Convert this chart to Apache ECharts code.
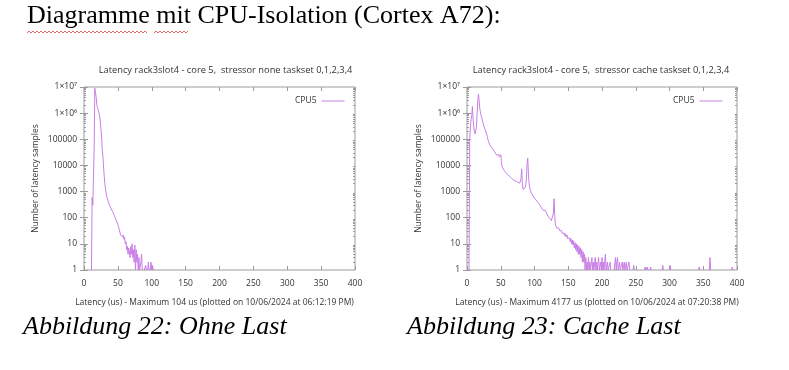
<!DOCTYPE html>
<html><head><meta charset="utf-8">
<script src="https://cdn.jsdelivr.net/npm/echarts@6/dist/echarts.min.js"></script>
<style>html,body{margin:0;padding:0;background:#fff}#c{width:789px;height:370px}</style>
</head><body><div id="c"></div>
<script>
// ---------- texts ----------
const pageTitle = 'Diagramme mit CPU-Isolation (Cortex A72):';
const chartTitles = ['Latency rack3slot4 - core 5,  stressor none taskset 0,1,2,3,4',
                     'Latency rack3slot4 - core 5,  stressor cache taskset 0,1,2,3,4'];
const xAxisTitles = ['Latency (us) - Maximum 104 us (plotted on 10/06/2024 at 06:12:19 PM)',
                     'Latency (us) - Maximum 4177 us (plotted on 10/06/2024 at 07:20:38 PM)'];
const yAxisTitle = 'Number of latency samples';
const captions = ['Abbildung 22: Ohne Last', 'Abbildung 23: Cache Last'];
const seriesName = 'CPU5';

// ---------- axes ----------
const xMin = 0, xMax = 400, xInterval = 50;
const yTickValues = [1, 10, 100, 1000, 10000, 100000, 1000000, 10000000];
const yTickLabels = ['1', '10', '100', '1000', '10000', '100000', '1×10⁶', '1×10⁷'];

// ---------- data: [latency us, number of samples] (null = no samples) ----------
const noneData = [[11,1],[12,600],[13,300],[14,350],[15,5e4],[16,9e6],[17,8e6],[18,4e6],[19,2e6],[20,1.6e6],
 [21,1.3e6],[22,1.1e6],[23,8e5],[24,5e5],[25,2.5e5],[26,1.2e5],[27,4e4],[28,2e4],[29,8000],[30,3500],
 [31,1800],[32,1100],[33,800],[34,600],[35,480],[36,400],[37,340],[38,290],[39,250],[40,220],
 [41,195],[42,175],[43,155],[44,135],[45,115],[46,100],[47,88],[48,75],[49,65],[50,55],
 [51,45],[52,36],[53,28],[54,22],[55,20],[56,25],[57,18],[58,22],[59,15],[60,18],
 [61,10],[62,12],[63,6],[64,8],[65,4],[66,7],[67,5],[68,3],[69,8],[70,4],
 [71,10],[72,3],[73,6],[74,2],[75,9],[76,1],[77,6],[78,2],[79,4],[80,1],
 [81,3],[82,1],[83,1],[84,2],[85,4],[86,1],[87,1],[88,null],[89,1],[90,1],
 [91,1.5],[92,1],[93,null],[94,1],[95,2],[96,1],[97,null],[98,1],[99,2],[100,1],
 [101,1.5],[102,1],[103,1],[104,1]];

const cacheData = [[3,1],[4,1.1e5],[5,3e5],[6,5.6e5],[7,8e5],[8,1.8e6],[9,6e5],[10,3e5],
 [11,2e5],[12,1.6e5],[13,1.5e5],[14,3e5],[15,1e6],[16,3e6],[17,5.4e6],[18,3e6],[19,1.5e6],[20,1e6],
 [21,8e5],[22,6.5e5],[23,5e5],[24,4e5],[25,3.2e5],[26,2.7e5],[27,2.3e5],[28,1.9e5],[29,1.6e5],[30,1.3e5],
 [31,1e5],[32,8e4],[33,7e4],[34,6e4],[35,5.5e4],[36,5e4],[37,4.5e4],[38,4.2e4],[39,4e4],[40,3.5e4],
 [41,3.2e4],[42,3e4],[43,2.7e4],[44,2.5e4],[45,2.9e4],[46,2.2e4],[47,2.6e4],[48,2.1e4],[49,2e4],[50,2.6e4],
 [51,1.4e4],[52,9e3],[53,8e3],[54,7e3],[55,6.5e3],[56,6e3],[57,5.5e3],[58,5.2e3],[59,5e3],[60,4.6e3],
 [61,4.3e3],[62,4e3],[63,3.8e3],[64,3.6e3],[65,3.4e3],[66,3.2e3],[67,3e3],[68,2.9e3],[69,2.8e3],[70,2.7e3],
 [71,2.6e3],[72,2.5e3],[73,2.4e3],[74,2.5e3],[75,2.3e3],[76,2.2e3],[77,2.3e3],[78,2.1e3],[79,2e3],[80,3e3],
 [81,7.4e3],[82,2e3],[83,1.2e3],[84,1.1e3],[85,1.2e3],[86,1.4e3],[87,1.8e3],[88,3e3],[89,1.2e4],[90,1.9e4],
 [91,5e3],[92,2e3],[93,1.4e3],[94,1.1e3],[95,900],[96,800],[97,750],[98,650],[99,600],[100,560],
 [101,520],[102,480],[103,450],[104,420],[105,390],[106,360],[107,330],[108,310],[109,280],[110,250],
 [111,230],[112,210],[113,190],[114,170],[115,160],[116,190],[117,220],[118,150],[119,127],[120,115],
 [121,105],[122,95],[123,85],[124,80],[125,78],[126,72],[127,70],[128,150],[129,530],[130,120],
 [131,53],[132,50],[133,40],[134,45],[135,35],[136,40],[137,32],[138,35],[139,28],[140,32],
 [141,25],[142,28],[143,22],[144,26],[145,20],[146,24],[147,18],[148,22],[149,16],[150,19],
 [151,14],[152,17],[153,12],[154,16],[155,10],[156,14],[157,9],[158,13],[159,7],[160,11],
 [161,6],[162,10],[163,5],[164,9],[165,4],[166,8],[167,4],[168,7],[169,3],[170,6],
 [171,2],[172,5],[173,2],[174,4],[175,1],[176,3],[177,1],[178,2],[179,1],[180,3],
 [181,1],[182,2],[183,1],[184,1],[185,3],[186,1],[187,2],[188,1],[189,1],[190,3],
 [191,1],[192,2],[193,1],[194,1],[195,3],[196,1],[197,1],[198,2],[199,1],[200,3],
 [201,1],[202,2],[203,1],[204,1],[205,4],[206,1],[207,1],[208,2],[209,1],[210,1],
 [211,1],[212,2],[213,1],[214,null],[218,1],[219,1],[220,3],[221,1],[222,2],[223,3],
 [224,1],[225,1],[226,2],[227,1],[228,1],[229,1],[230,2],[231,1],[232,1],[233,2],
 [234,1],[235,1],[236,2],[237,1],[238,1],[239,1],[240,2],[241,1],[242,null],
 [246,1],[247,1.5],[248,1],[249,null],[263,1],[264,1.3],[265,1],[266,1],[267,1.3],[268,1],[269,null],
 [271,1],[272,1.3],[273,1],[274,null],[289,1],[290,1.5],[291,1],[292,null],[300,1],[301,1.5],[302,1],[303,null],
 [343,1],[344,1.3],[345,1],[346,null],[349,1],[350,1],[351,null],[359,1],[360,3],[361,1],[362,null],
 [385,1],[386,1],[387,null],[392,1],[393,1.3],[394,1],[395,1]];

// ---------- styling ----------
const lineColor = '#c97ee4';
const frameColor = '#9b9b9b';
const textColor = '#333';
const sansFont = '"Open Sans", "Noto Sans", sans-serif';
const smallSize = 8.5;
const titleSize = 9.3;

const grids = [
  {left: 84, top: 87, width: 271, height: 183},
  {left: 467, top: 87, width: 270, height: 183}
];
const titleCenters = [225.5, 601];
const xTitleCenters = [214.5, 597];

// minor log tick positions (2..9 in each decade)
const minorTicks = [];
for (let d = 1; d < 1e7; d *= 10) for (let k = 2; k <= 9; k++) minorTicks.push(k * d);

function yLabel(v) {
  const idx = yTickValues.findIndex(t => Math.abs(Math.log10(t) - Math.log10(v)) < 1e-6);
  return idx >= 0 ? yTickLabels[idx] : '';
}

const xAxes = [], yAxes = [], series = [], legends = [], graphics = [];
const datasets = [noneData, cacheData];

grids.forEach((g, i) => {
  const common = {gridIndex: i, type: 'value', min: xMin, max: xMax, interval: xInterval,
    axisLine: {show: false}, splitLine: {show: false},
    axisTick: {inside: true, length: 4, lineStyle: {color: frameColor}}};
  xAxes.push(Object.assign({}, common, {position: 'bottom',
    axisLabel: {margin: 9, fontSize: smallSize, color: textColor, fontFamily: sansFont}}));
  xAxes.push(Object.assign({}, common, {position: 'top', axisLabel: {show: false}}));

  const yc = {gridIndex: i, type: 'log', logBase: 10, min: 1, max: 1e7, splitNumber: 7,
    axisLine: {show: false}, splitLine: {show: false}};
  yAxes.push(Object.assign({}, yc, {position: 'left',
    axisTick: {inside: true, length: 4, lineStyle: {color: frameColor}},
    axisLabel: {margin: 7, fontSize: smallSize, color: textColor, fontFamily: sansFont, formatter: yLabel},
    name: yAxisTitle, nameLocation: 'middle', nameGap: 44,
    nameTextStyle: {fontSize: smallSize, color: textColor, fontFamily: sansFont}}));
  yAxes.push(Object.assign({}, yc, {position: 'right',
    axisTick: {inside: true, length: 4, lineStyle: {color: frameColor}}, axisLabel: {show: false}}));
  yAxes.push(Object.assign({}, yc, {position: 'left',
    axisTick: {inside: true, length: 2, customValues: minorTicks, lineStyle: {color: frameColor}}, axisLabel: {show: false}}));
  yAxes.push(Object.assign({}, yc, {position: 'right',
    axisTick: {inside: true, length: 2, customValues: minorTicks, lineStyle: {color: frameColor}}, axisLabel: {show: false}}));

  series.push({type: 'line', name: seriesName, xAxisIndex: i * 2, yAxisIndex: i * 4,
    data: datasets[i].map(p => [p[0], p[1] == null ? '-' : p[1]]),
    showSymbol: false, symbol: 'none', connectNulls: false, clip: true, animation: false,
    lineStyle: {width: 1, color: lineColor}, itemStyle: {color: lineColor}});

  legends.push({data: [seriesName], left: i === 0 ? 295 : 673, top: 96.5, padding: 0,
    align: 'right', orient: 'horizontal', icon: 'rect', itemWidth: 23, itemHeight: 1,
    selectedMode: false, textStyle: {fontSize: smallSize, color: textColor, fontFamily: sansFont, padding: 0}});

  graphics.push({type: 'text', x: titleCenters[i], y: 70, silent: true,
    style: {text: chartTitles[i], font: titleSize + 'px ' + sansFont, fill: textColor, align: 'center', verticalAlign: 'middle'}});
  graphics.push({type: 'text', x: xTitleCenters[i], y: 303, silent: true,
    style: {text: xAxisTitles[i], font: smallSize + 'px ' + sansFont, fill: textColor, align: 'center', verticalAlign: 'middle'}});
});

// page title & captions
graphics.push({type: 'text', x: 27, y: 16, silent: true,
  style: {text: pageTitle, font: '26px "Liberation Serif", "Times New Roman", serif', fill: '#000', align: 'left', verticalAlign: 'middle'}});
graphics.push({type: 'text', x: 23, y: 327, silent: true,
  style: {text: captions[0], font: 'italic 26px "Liberation Serif", "Times New Roman", serif', fill: '#000', align: 'left', verticalAlign: 'middle'}});
graphics.push({type: 'text', x: 407, y: 327, silent: true,
  style: {text: captions[1], font: 'italic 26px "Liberation Serif", "Times New Roman", serif', fill: '#000', align: 'left', verticalAlign: 'middle'}});

// spell-check wavy underlines (decoration)
function wave(x0, x1, y) {
  const pts = [];
  for (let x = x0, k = 0; x <= x1; x += 2, k++) pts.push([x, y + (k % 2 ? -1 : 1)]);
  return {type: 'polyline', silent: true, shape: {points: pts}, style: {stroke: '#e04040', lineWidth: 0.8, fill: null}};
}
graphics.push(wave(27, 148, 32));
graphics.push(wave(154, 188, 32));

const chart = echarts.init(document.getElementById('c'), null, {renderer: 'canvas'});
chart.setOption({
  animation: false,
  backgroundColor: '#fff',
  grid: grids.map(g => Object.assign({show: true, borderColor: frameColor, borderWidth: 1, backgroundColor: 'transparent'}, g)),
  xAxis: xAxes,
  yAxis: yAxes,
  legend: legends,
  series: series,
  graphic: graphics
});
</script></body></html>
